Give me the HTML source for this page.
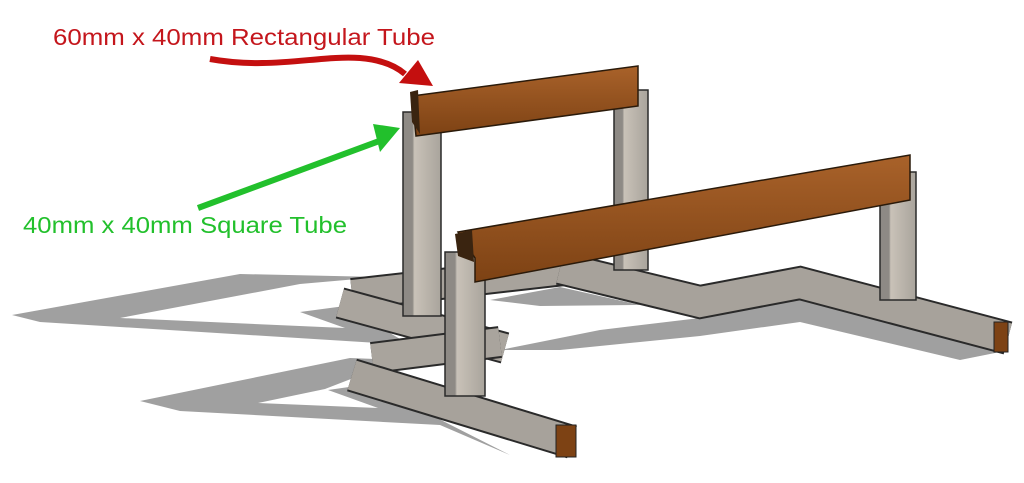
<!DOCTYPE html>
<html><head><meta charset="utf-8"><style>
html,body{margin:0;padding:0;background:#fff;width:1024px;height:483px;overflow:hidden}
svg{display:block}
text{font-family:"Liberation Sans","DejaVu Sans",sans-serif}
</style></head><body>
<svg width="1024" height="483" viewBox="0 0 1024 483" xmlns="http://www.w3.org/2000/svg">
<defs>
<linearGradient id="wood" x1="0" y1="0" x2="0" y2="1"><stop offset="0" stop-color="#a9622a"/><stop offset="1" stop-color="#7d4214"/></linearGradient>
<linearGradient id="post" x1="0" y1="0" x2="1" y2="0"><stop offset="0" stop-color="#8e8a85"/><stop offset="0.25" stop-color="#8e8a85"/><stop offset="0.3" stop-color="#c9c2b8"/><stop offset="1" stop-color="#a9a49c"/></linearGradient>
</defs>
<!-- shadows -->
<g fill="#a0a0a0">
<polygon points="12,315 240,274 380,277 300,284 120,318 345,328 300,312 345,306 410,345 330,340 40,322"/>
<polygon points="140,401 350,358 400,360 325,389 258,403 378,408 328,390 370,384 510,455 440,425 180,411"/>
<polygon points="490,300 560,287 640,305 540,306"/>
<polygon points="500,350 600,330 700,318 800,300 1000,352 960,360 800,322 700,336 560,350"/>
</g>
<!-- back base tubes -->
<g fill="none" stroke-linejoin="miter" stroke-linecap="butt">
<polyline points="352,294 565,270" stroke="#2a2a2a" stroke-width="32"/>
<polyline points="352,294 565,270" stroke="#a8a39c" stroke-width="28"/>
<polyline points="560,268 700,302 800,283 1008,338" stroke="#2a2a2a" stroke-width="34"/>
<polyline points="560,268 700,302 800,283 1008,338" stroke="#a7a29b" stroke-width="30"/>
<polyline points="340,303 505,348" stroke="#2a2a2a" stroke-width="32"/>
<polyline points="340,303 505,348" stroke="#aaa59e" stroke-width="28"/>
</g>
<rect x="994" y="322" width="14" height="30" fill="#7d4214" stroke="#222"/>
<!-- back posts -->
<rect x="403" y="112" width="38" height="204" fill="url(#post)" stroke="#2a2a2a" stroke-width="1.5"/>
<rect x="614" y="90" width="34" height="180" fill="url(#post)" stroke="#2a2a2a" stroke-width="1.5"/>
<!-- back beam -->
<polygon points="412,96 638,66 638,106 416,136" fill="url(#wood)" stroke="#2a1a0a" stroke-width="1.5"/>
<polygon points="410,92 418,90 420,134 412,122" fill="#3a2410"/>
<!-- front base -->
<g fill="none" stroke-linejoin="miter">
<polyline points="372,358 500,342" stroke="#2a2a2a" stroke-width="32"/>
<polyline points="372,358 500,342" stroke="#a9a49d" stroke-width="28"/>
<polyline points="352,375 572,442" stroke="#2a2a2a" stroke-width="34"/>
<polyline points="352,375 572,442" stroke="#a7a29b" stroke-width="30"/>
</g>
<rect x="556" y="425" width="20" height="32" fill="#7d4214" stroke="#222"/>
<!-- right front post -->
<rect x="880" y="172" width="36" height="128" fill="url(#post)" stroke="#2a2a2a" stroke-width="1.5"/>
<!-- front left post -->
<rect x="445" y="252" width="40" height="144" fill="url(#post)" stroke="#2a2a2a" stroke-width="1.5"/>
<!-- front beam -->
<polygon points="458,232 910,155 910,200 475,282 475,258" fill="url(#wood)" stroke="#2a1a0a" stroke-width="1.5"/>
<polygon points="455,234 472,230 474,262 458,256" fill="#3a2410"/>
<!-- arrows -->
<path d="M210,59 C270,70 320,55 360,58 C385,60 398,68 405,74" fill="none" stroke="#c40f0f" stroke-width="6"/>
<polygon points="399,83 418,60 433,86" fill="#c40f0f"/>
<line x1="198" y1="208" x2="382" y2="140" stroke="#22c02c" stroke-width="6"/>
<polygon points="373,124 400,128 380,152" fill="#22c02c"/>
<!-- labels -->
<text x="53" y="45" font-size="23" fill="#c4161c" textLength="382" lengthAdjust="spacingAndGlyphs">60mm x 40mm Rectangular Tube</text>
<text x="23" y="233" font-size="23" fill="#22c02c" textLength="324" lengthAdjust="spacingAndGlyphs">40mm x 40mm Square Tube</text>
</svg>
</body></html>
